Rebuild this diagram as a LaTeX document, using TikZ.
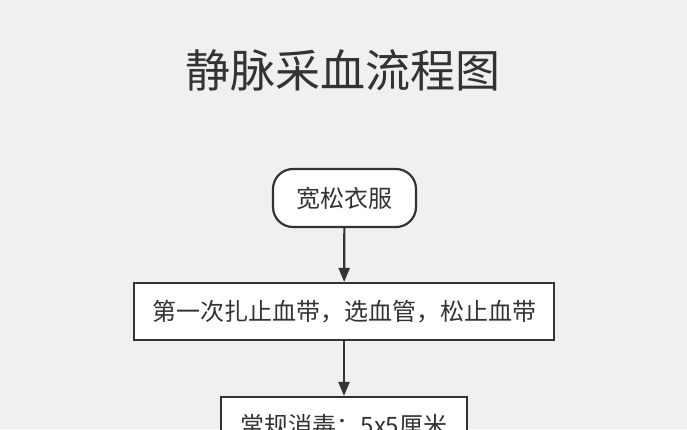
\documentclass[tikz,border=0pt]{standalone}
\usepackage{fontspec}
\setmainfont{Noto Sans CJK SC}
\usetikzlibrary{arrows.meta}
\definecolor{bg}{HTML}{F0F0F0}
\definecolor{ink}{HTML}{333333}
\begin{document}
\begin{tikzpicture}[x=1pt,y=-1pt,
  box/.style={draw=ink,line width=2.2pt,fill=white,text=ink,font=\fontsize{24}{28}\selectfont,inner sep=0pt},
  arr/.style={draw=ink,line width=2.2pt,-{Triangle[length=14pt,width=11pt]}}]
\useasboundingbox (0,0) rectangle (687,429);
\clip (0,0) rectangle (687,429);
\fill[bg] (0,0) rectangle (687,429);
\node[text=ink,font=\fontsize{45}{50}\selectfont] (title) at (343,70) {静脉采血流程图};
\node[box,rounded corners=20pt,minimum width=143pt,minimum height=58pt] (a) at (344.5,198) {宽松衣服};
\node[box,minimum width=420pt,minimum height=57pt] (b) at (344,311.5) {第一次扎止血带，选血管，松止血带};
\node[box,minimum width=246pt,minimum height=57pt] (c) at (344,425.5) {常规消毒：5x5厘米};
\draw[arr] (a) -- (b);
\draw[arr] (b) -- (c);
\end{tikzpicture}
\end{document}
